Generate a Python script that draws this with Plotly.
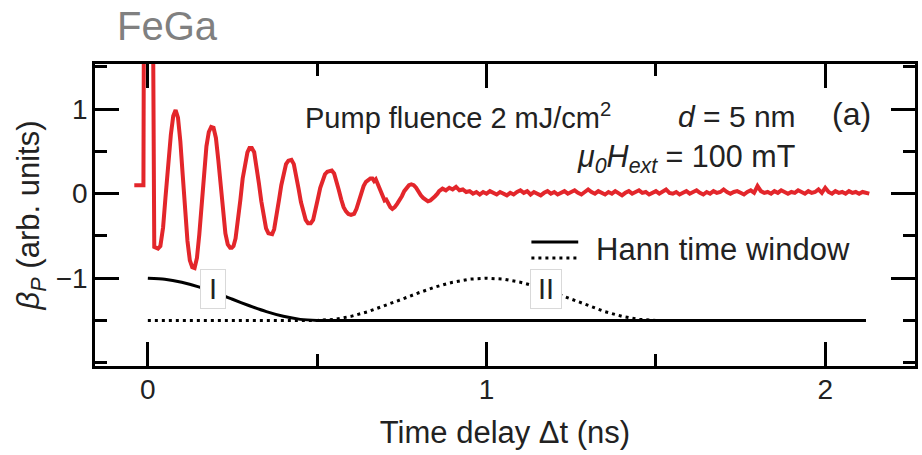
import plotly.graph_objects as go

# Probe ellipticity transient, FeGa film (time in ns, signal in arb. units)
t_sig = [
    -0.040, -0.013, -0.011, 0.000, 0.014, 0.019, 0.030, 0.037,
    0.045, 0.052, 0.060, 0.068, 0.075, 0.082, 0.089, 0.096, 0.103, 0.110,
    0.117, 0.124, 0.131, 0.138, 0.145, 0.152, 0.159, 0.166, 0.173, 0.180,
    0.187, 0.194, 0.201, 0.208, 0.215, 0.222, 0.229, 0.236, 0.243, 0.248,
    0.253, 0.259, 0.266, 0.273, 0.280, 0.287, 0.294, 0.300, 0.307, 0.314,
    0.321, 0.328, 0.335, 0.342, 0.349, 0.356, 0.362, 0.367, 0.373, 0.380,
    0.387, 0.394, 0.401, 0.408, 0.415, 0.424, 0.431, 0.438, 0.445, 0.452,
    0.459, 0.466, 0.473, 0.481, 0.488, 0.495, 0.502, 0.509, 0.516, 0.523,
    0.530, 0.537, 0.543, 0.550, 0.557, 0.564, 0.571, 0.578, 0.585, 0.592,
    0.600, 0.609, 0.616, 0.623, 0.630, 0.637, 0.644, 0.651, 0.657, 0.663,
    0.668, 0.673, 0.679, 0.686, 0.693, 0.699, 0.704, 0.710, 0.716, 0.722,
    0.729, 0.736, 0.743, 0.750, 0.757, 0.764, 0.771, 0.778, 0.785, 0.792,
    0.799, 0.806, 0.813, 0.820, 0.827, 0.834, 0.841, 0.848, 0.855,
    0.86, 0.87, 0.88, 0.89, 0.90, 0.91, 0.92, 0.93, 0.94, 0.95,
    0.96, 0.97, 0.98, 0.99, 1.00, 1.01, 1.02, 1.03, 1.04, 1.05,
    1.06, 1.07, 1.08, 1.09, 1.10, 1.11, 1.12, 1.13, 1.14, 1.15,
    1.16, 1.17, 1.18, 1.19, 1.20, 1.21, 1.22, 1.23, 1.24, 1.25,
    1.26, 1.27, 1.28, 1.29, 1.30, 1.31, 1.32, 1.33, 1.34, 1.35,
    1.36, 1.37, 1.38, 1.39, 1.40, 1.41, 1.42, 1.43, 1.44, 1.45,
    1.46, 1.47, 1.48, 1.49, 1.50, 1.51, 1.52, 1.53, 1.54, 1.55,
    1.56, 1.57, 1.58, 1.59, 1.60, 1.61, 1.62, 1.63, 1.64, 1.65,
    1.66, 1.67, 1.68, 1.69, 1.70, 1.71, 1.72, 1.73, 1.74, 1.75,
    1.76, 1.77, 1.78, 1.79, 1.80, 1.81, 1.82, 1.83, 1.84, 1.85,
    1.86, 1.87, 1.88, 1.89, 1.90, 1.91, 1.92, 1.93, 1.94, 1.95,
    1.96, 1.97, 1.98, 1.99, 2.00, 2.01, 2.02, 2.03, 2.04, 2.05,
    2.06, 2.07, 2.08, 2.09, 2.10, 2.11, 2.12, 2.13,
]
beta_p = [
    0.10, 0.10, 3.00, 3.00, 3.00, -0.63, -0.65, -0.62,
    -0.40, -0.05, 0.35, 0.70, 0.92, 0.99, 0.90, 0.62, 0.22, -0.20,
    -0.56, -0.79, -0.87, -0.88, -0.76, -0.48, -0.10, 0.26, 0.56, 0.73,
    0.79, 0.78, 0.66, 0.40, 0.08, -0.24, -0.47, -0.60, -0.64, -0.64,
    -0.62, -0.53, -0.33, -0.08, 0.18, 0.37, 0.49, 0.54, 0.54, 0.49,
    0.33, 0.12, -0.09, -0.28, -0.41, -0.47, -0.48, -0.48, -0.42, -0.27,
    -0.08, 0.10, 0.25, 0.35, 0.39, 0.40, 0.35, 0.22, 0.06, -0.10,
    -0.22, -0.31, -0.35, -0.35, -0.31, -0.20, -0.06, 0.07, 0.17, 0.23,
    0.26, 0.27, 0.275, 0.24, 0.15, 0.04, -0.07, -0.16, -0.21, -0.24,
    -0.25, -0.24, -0.18, -0.09, 0.01, 0.09, 0.14, 0.17, 0.18, 0.18,
    0.15, 0.17, 0.11, 0.04, -0.03, -0.08, -0.07, -0.13, -0.16, -0.18,
    -0.16, -0.12, -0.08, -0.03, 0.03, 0.07, 0.10, 0.11, 0.10, 0.07,
    0.02, -0.02, -0.05, -0.07, -0.09, -0.08, -0.06, -0.03, 0.00,
    0.03, 0.06, 0.04, 0.07, 0.05, 0.08, 0.04, 0.05, 0.02, 0.03,
    0.00, 0.02, -0.01, 0.02, 0.00, 0.03, 0.01, -0.01, 0.02, 0.00,
    -0.02, 0.01, -0.01, 0.02, 0.04, 0.01, 0.03, -0.01, 0.02, 0.00,
    -0.02, 0.01, 0.03, 0.00, 0.02, -0.01, 0.01, 0.03, 0.00, 0.02,
    0.04, 0.01, -0.01, 0.02, 0.05, 0.02, 0.00, 0.03, 0.01, -0.01,
    0.02, 0.00, 0.03, 0.01, -0.02, 0.01, 0.03, 0.00, 0.02, 0.04,
    0.01, 0.02, -0.01, 0.01, 0.03, 0.00, 0.02, 0.05, 0.01, 0.00,
    0.02, -0.01, 0.01, 0.03, 0.00, 0.02, 0.04, 0.01, -0.01, 0.02,
    0.00, 0.03, 0.01, 0.02, 0.05, 0.02, 0.00, 0.02, 0.03, 0.01,
    -0.01, 0.02, 0.04, 0.01, 0.09, 0.03, 0.01, 0.02, 0.00, 0.03,
    0.01, 0.04, 0.02, 0.00, 0.02, 0.01, 0.04, 0.02, 0.00, 0.03,
    0.01, 0.02, 0.05, 0.01, 0.07, 0.02, 0.00, 0.03, 0.01, 0.02,
    0.00, 0.03, 0.01, 0.02, 0.00, 0.02, 0.01, 0.00,
]

# Hann time windows, offset to sit below the signal
t_win1 = [0.00, 0.05, 0.10, 0.15, 0.20, 0.25, 0.30, 0.35, 0.40, 0.45, 0.50, 2.12]
win1 = [-1.000, -1.012, -1.048, -1.103, -1.173, -1.250, -1.327, -1.397, -1.452, -1.488, -1.500, -1.500]

t_win2 = [0.00, 0.50, 0.55, 0.60, 0.65, 0.70, 0.75, 0.80, 0.85, 0.90, 0.95, 1.00,
          1.05, 1.10, 1.15, 1.20, 1.25, 1.30, 1.35, 1.40, 1.45, 1.50, 2.12]
win2 = [-1.500, -1.500, -1.488, -1.452, -1.397, -1.327, -1.250, -1.173, -1.103, -1.048, -1.012, -1.000,
        -1.012, -1.048, -1.103, -1.173, -1.250, -1.327, -1.397, -1.452, -1.488, -1.500, -1.500]

x_ticks = [0, 1, 2]
y_ticks = [-1, 0, 1]

FONT = "Liberation Sans, Arial, Helvetica, sans-serif"
W, H = 922, 455
ML, MR, MT, MB = 95, 4, 64, 89
PW, PH = W - ML - MR, H - MT - MB


def px(xp):
    return (xp - ML) / PW


def py(yp):
    return (H - MB - yp) / PH


fig = go.Figure()
fig.add_trace(go.Scatter(x=t_win2, y=win2, mode="lines",
                         line=dict(color="black", width=3, dash="3px,4px"),
                         hoverinfo="skip"))
fig.add_trace(go.Scatter(x=t_win1, y=win1, mode="lines",
                         line=dict(color="black", width=3, shape="spline", smoothing=0.6),
                         hoverinfo="skip"))
fig.add_trace(go.Scatter(x=t_sig, y=beta_p, mode="lines",
                         line=dict(color="#e3262b", width=4)))

axis_common = dict(
    showline=True, linecolor="black", linewidth=2.5, mirror="allticks",
    ticks="inside", ticklen=24, tickwidth=2.5, tickcolor="black",
    showgrid=False, zeroline=False,
    tickfont=dict(family=FONT, size=28, color="#222"),
)

fig.update_xaxes(
    range=[-0.156, 2.265], tickvals=x_ticks, ticktext=[str(v) for v in x_ticks],
    minor=dict(ticks="inside", ticklen=12, tickwidth=2.5, tickcolor="black", dtick=0.5, tick0=0,
               showgrid=False),
    ticklabelstandoff=-3,
    title=dict(text="Time delay Δt (ns)", font=dict(family=FONT, size=31, color="#222"), standoff=17),
    **axis_common,
)
fig.update_yaxes(
    range=[-2.04, 1.535], tickvals=y_ticks, ticktext=["−1", "0", "1"],
    minor=dict(ticks="inside", ticklen=12, tickwidth=2.5, tickcolor="black", dtick=0.5, tick0=0,
               showgrid=False),
    ticklabelstandoff=-1,
    title=dict(text="<i>β<sub>P</sub></i> (arb. units)", font=dict(family=FONT, size=31, color="#222"),
               standoff=7),
    **axis_common,
)

ann_font = dict(family=FONT, size=29, color="#222")
annotations = [
    dict(text="FeGa", xref="paper", yref="paper", x=px(115), y=py(26),
         xanchor="left", yanchor="middle", showarrow=False,
         font=dict(family=FONT, size=40, color="#808080")),
    dict(text="Pump fluence 2 mJ/cm<sup>2</sup>", xref="paper", yref="paper", x=px(304), y=py(116),
         xanchor="left", yanchor="middle", showarrow=False, font=ann_font),
    dict(text="<i>d</i> = 5 nm", xref="paper", yref="paper", x=px(801), y=py(116),
         xanchor="right", yanchor="middle", showarrow=False,
         font=dict(family=FONT, size=30, color="#222")),
    dict(text="(a)", xref="paper", yref="paper", x=px(876), y=py(114),
         xanchor="right", yanchor="middle", showarrow=False,
         font=dict(family=FONT, size=32, color="#222")),
    dict(text="<i>μ<sub>0</sub>H<sub>ext</sub></i> = 100 mT", xref="paper", yref="paper",
         x=px(800), y=py(158), xanchor="right", yanchor="middle", showarrow=False,
         font=dict(family=FONT, size=30.5, color="#222")),
    dict(text="Hann time window", xref="paper", yref="paper", x=px(596), y=py(249),
         xanchor="left", yanchor="middle", showarrow=False,
         font=dict(family=FONT, size=31, color="#222")),
    dict(text="I", x=0.191, y=-1.13, xref="x", yref="y", showarrow=False, width=22, height=36,
         font=ann_font, bgcolor="white", bordercolor="#d9d9d9", borderwidth=1, borderpad=1),
    dict(text="II", x=1.176, y=-1.13, xref="x", yref="y", showarrow=False, width=28, height=36,
         font=ann_font, bgcolor="white", bordercolor="#d9d9d9", borderwidth=1, borderpad=1),
]

shapes = [
    dict(type="line", xref="paper", yref="paper", x0=px(533), x1=px(580), y0=py(242), y1=py(242),
         line=dict(color="black", width=3)),
    dict(type="line", xref="paper", yref="paper", x0=px(533), x1=px(580), y0=py(258), y1=py(258),
         line=dict(color="black", width=3, dash="3px,4px")),
]

fig.update_layout(
    width=W, height=H,
    margin=dict(l=ML, r=MR, t=MT, b=MB),
    paper_bgcolor="white", plot_bgcolor="white",
    showlegend=False,
    annotations=annotations, shapes=shapes,
    font=dict(family=FONT),
)

fig.write_html("out.html")
